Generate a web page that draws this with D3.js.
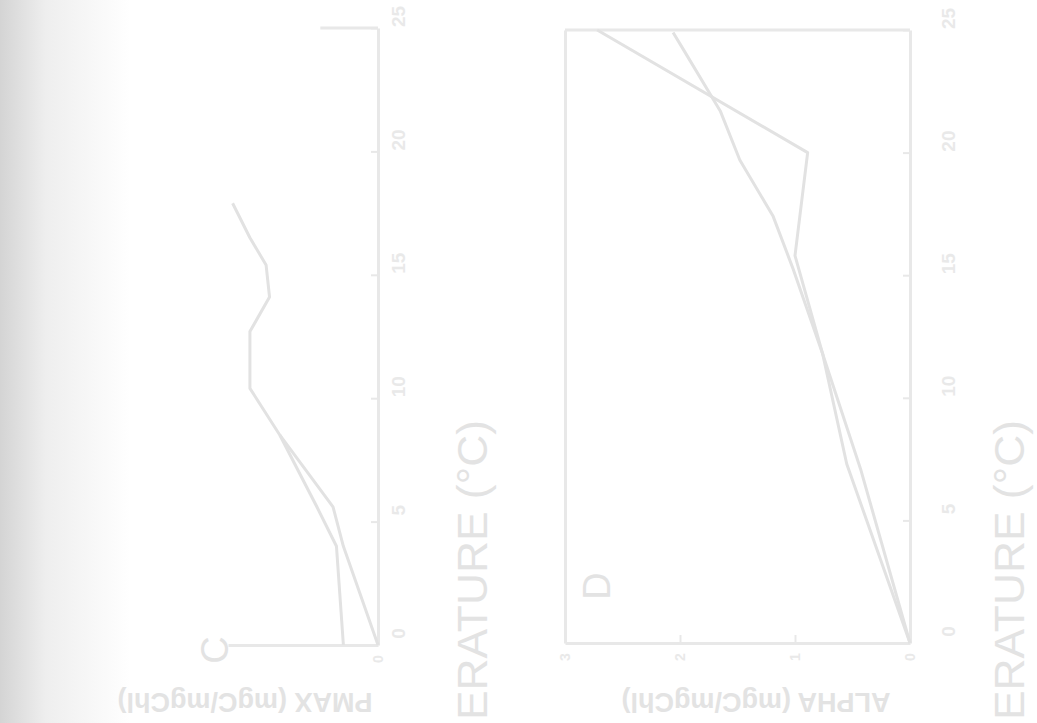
<!DOCTYPE html>
<html>
<head>
<meta charset="utf-8">
<script src="https://cdn.jsdelivr.net/npm/d3@7"></script>
<style>
  body { margin: 0; background: #fff; overflow: hidden; }
  svg text { font-family: "Liberation Sans", Arial, sans-serif; }
</style>
</head>
<body>
<div id="chart"></div>
<script>
// temperature ticks shared by both panels
const tempTicks = [0, 5, 10, 15, 20, 25];
const valueTicksD = [0, 1, 2, 3];
const valueTicksC = [0];

// panel C (left, partly cut off)
const cTemp1 = [0, 4, 5.6, 8.5, 10.4, 12.7, 14.1, 15.4, 16.5, 17.9];
const cVal1 = [0, 0.30, 0.39, 0.85, 1.11, 1.11, 0.94, 0.97, 1.11, 1.26];
const cTemp2 = [0, 4, 5.6, 8.5];
const cVal2 = [0.30, 0.36, 0.53, 0.85];

// panel D (right)
const dTemp1 = [0, 7.3, 11.8, 15.8, 20, 25];
const dVal1 = [0, 0.55, 0.76, 1.0, 0.89, 2.72];
const dTemp2 = [0, 7.1, 11.8, 15.3, 17.4, 19.7, 21.7, 24.2, 24.9];
const dVal2 = [0, 0.43, 0.76, 1.02, 1.19, 1.48, 1.65, 1.97, 2.06];

const W = 1037, H = 723;
const inkLine = "#e2e2e2", inkAxis = "#e8e8e8", inkText = "#e3e3e3", inkTick = "#e9e9e9";

const svg = d3.select("#chart").append("svg")
  .attr("width", W).attr("height", H);

// scan shadow along the left edge
const grad = svg.append("defs").append("linearGradient")
  .attr("id", "shade").attr("x1", 0).attr("x2", 1).attr("y1", 0).attr("y2", 0);
grad.append("stop").attr("offset", "0%").attr("stop-color", "#d4d4d4");
grad.append("stop").attr("offset", "35%").attr("stop-color", "#eeeeee");
grad.append("stop").attr("offset", "100%").attr("stop-color", "#ffffff");
svg.append("rect").attr("x", 0).attr("y", 0).attr("width", 130).attr("height", H)
  .attr("fill", "url(#shade)");

function zip(t, v) { return t.map((d, i) => ({temp: d, val: v[i]})); }

function drawPanel(opt) {
  const x = d3.scaleLinear().domain(opt.xDomain).range(opt.xRange);
  const y = d3.scaleLinear().domain([0, 25]).range(opt.yRange);
  const g = svg.append("g");

  // right axis = temperature
  const ax = g.append("g")
    .attr("transform", `translate(${x(0)},0)`)
    .call(d3.axisRight(y).tickValues(tempTicks).tickSize(-7).tickSizeOuter(0));
  ax.select(".domain").attr("stroke", inkAxis).attr("stroke-width", 3);
  ax.selectAll(".tick line").attr("stroke", inkAxis).attr("stroke-width", 2);
  ax.selectAll(".tick text")
    .attr("fill", inkTick).attr("font-size", 19).attr("font-weight", "bold")
    .attr("x", 0).attr("dy", 0).attr("text-anchor", "middle")
    .attr("transform", `translate(${opt.tickOffset},-12) rotate(-90)`);

  // bottom axis = value
  const bx = g.append("g")
    .attr("transform", `translate(0,${y(0)})`)
    .call(d3.axisBottom(x).tickValues(opt.valueTicks).tickFormat(d3.format("d"))
      .tickSize(-8).tickSizeOuter(0));
  bx.select(".domain").attr("stroke", inkAxis).attr("stroke-width", 3);
  bx.selectAll(".tick line").attr("stroke", inkAxis).attr("stroke-width", 2);
  bx.selectAll(".tick text")
    .attr("fill", inkTick).attr("font-size", 14).attr("font-weight", "bold")
    .attr("y", 0).attr("dy", 0).attr("text-anchor", "middle")
    .attr("transform", "translate(4,14) rotate(-90)");

  if (opt.box) {
    const lx = g.append("g").attr("transform", `translate(${x(opt.xDomain[1])},0)`)
      .call(d3.axisLeft(y).tickValues([]).tickSizeOuter(0));
    lx.select(".domain").attr("stroke", inkAxis).attr("stroke-width", 3);
  }
  // top border (only partly visible on panel C)
  g.append("line")
    .attr("x1", x(0)).attr("x2", x(opt.topTo))
    .attr("y1", y(25)).attr("y2", y(25))
    .attr("stroke", inkAxis).attr("stroke-width", 3);

  const line = d3.line().x(d => x(d.val)).y(d => y(d.temp));
  opt.series.forEach(s => {
    g.append("path").datum(s)
      .attr("fill", "none").attr("stroke", inkLine)
      .attr("stroke-width", 3).attr("stroke-linejoin", "round")
      .attr("d", line);
  });

  // panel letter
  g.append("text")
    .attr("transform", `translate(${opt.letterPos[0]},${opt.letterPos[1]}) rotate(-90)`)
    .attr("text-anchor", "middle").attr("dy", "0.35em")
    .attr("font-size", 38).attr("fill", inkText)
    .text(opt.letter);

  // temperature label as the page shows it (start cut off by the scan), bottom to top
  g.append("text")
    .attr("transform", `translate(${opt.tempLabelX},420) rotate(-90)`)
    .attr("text-anchor", "end").attr("dy", "0.3em")
    .attr("font-size", 42).attr("fill", inkText)
    .attr("textLength", 300).attr("lengthAdjust", "spacingAndGlyphs")
    .text("ERATURE (°C)");

  // value label, upside down
  g.append("text")
    .attr("transform", `translate(${opt.valueLabelX},702) rotate(180)`)
    .attr("text-anchor", "middle").attr("dy", "0.35em")
    .attr("font-size", 27).attr("font-weight", "bold").attr("fill", inkText)
    .text(opt.valueLabel);
}

drawPanel({
  xDomain: [0, 1.3], xRange: [378, 228], yRange: [645, 28],
  valueTicks: valueTicksC, tickOffset: 27, topTo: 0.5, box: false,
  series: [zip(cTemp1, cVal1), zip(cTemp2, cVal2)],
  letter: "C", letterPos: [215, 650],
  tempLabelX: 474, valueLabel: "PMAX (mgC/mgChl)", valueLabelX: 245
});

drawPanel({
  xDomain: [0, 3], xRange: [910, 565], yRange: [643, 30],
  valueTicks: valueTicksD, tickOffset: 45, topTo: 3, box: true,
  series: [zip(dTemp1, dVal1), zip(dTemp2, dVal2)],
  letter: "D", letterPos: [597, 586],
  tempLabelX: 1011, valueLabel: "ALPHA (mgC/mgChl)", valueLabelX: 756
});
</script>
</body>
</html>
